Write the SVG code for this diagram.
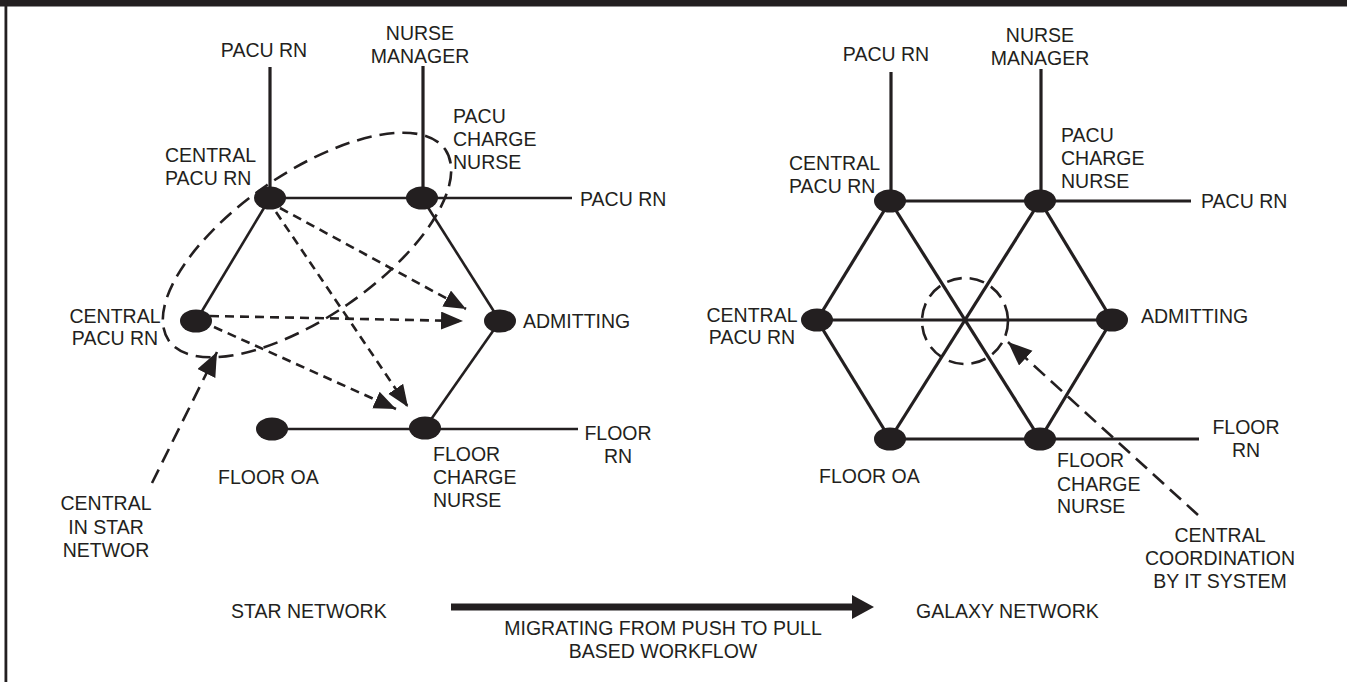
<svg xmlns="http://www.w3.org/2000/svg" width="1347" height="682" viewBox="0 0 1347 682">
<defs>
<style>
text{font-family:"Liberation Sans",Arial,sans-serif;font-size:19.5px;fill:#231f20}
.m{text-anchor:middle}
.ln{stroke:#231f20;fill:none;stroke-width:2.6}
.lg{stroke:#231f20;fill:none;stroke-width:3.2}
.nd{fill:#231f20}
.da{stroke:#231f20;fill:none;stroke-width:2.6;stroke-dasharray:9 6}
.dl{stroke:#231f20;fill:none;stroke-width:2.6;stroke-dasharray:15 8}
</style>
<marker id="ah" markerUnits="userSpaceOnUse" markerWidth="24" markerHeight="20" refX="22" refY="9" orient="auto" viewBox="0 0 24 20">
<path d="M0,0 L22,9 L0,18 z" fill="#231f20"/>
</marker>
<marker id="ah2" markerUnits="userSpaceOnUse" markerWidth="26" markerHeight="22" refX="24" refY="10" orient="auto" viewBox="0 0 26 22">
<path d="M0,0 L24,10 L0,20 z" fill="#231f20"/>
</marker>
</defs>
<rect width="1347" height="682" fill="#fff"/>
<rect x="0" y="0" width="1347" height="6.5" fill="#231f20"/>
<rect x="4.5" y="0" width="2.8" height="682" fill="#231f20"/>

<g id="connectors">
<line class="lg" x1="270" y1="67" x2="270" y2="198"/>
<line class="lg" x1="423" y1="66" x2="423" y2="198"/>
<line class="ln" x1="270" y1="198" x2="572" y2="198"/>
<line class="ln" x1="270" y1="198" x2="196" y2="321"/>
<line class="ln" x1="422" y1="198" x2="500" y2="321"/>
<line class="ln" x1="500" y1="321" x2="425" y2="428"/>
<line class="ln" x1="272" y1="429" x2="578" y2="429"/>
<line class="da" x1="280" y1="208" x2="466" y2="309" marker-end="url(#ah)"/>
<line class="da" x1="210" y1="316" x2="463" y2="321" marker-end="url(#ah)"/>
<line class="da" x1="276" y1="212" x2="408" y2="407" marker-end="url(#ah)"/>
<line class="da" x1="214" y1="327" x2="396" y2="409" marker-end="url(#ah)"/>
<ellipse class="dl" cx="307" cy="245" rx="168" ry="72" transform="rotate(-34.6 307 245)"/>
<line class="dl" stroke-width="3" x1="152" y1="483" x2="217" y2="352" marker-end="url(#ah2)"/>
<line class="lg" x1="891" y1="72" x2="891" y2="201"/>
<line class="lg" x1="1041" y1="69" x2="1041" y2="201"/>
<line class="lg" x1="890" y1="201" x2="1191" y2="201"/>
<line class="lg" x1="890" y1="439" x2="1199" y2="439"/>
<line class="lg" x1="890" y1="201" x2="817" y2="320"/>
<line class="lg" x1="817" y1="320" x2="890" y2="439"/>
<line class="lg" x1="1040" y1="439" x2="1112" y2="320"/>
<line class="lg" x1="1112" y1="320" x2="1040" y2="201"/>
<line class="lg" x1="890" y1="201" x2="1040" y2="439"/>
<line class="lg" x1="1040" y1="201" x2="890" y2="439"/>
<line class="lg" x1="817" y1="320" x2="1112" y2="320"/>
<circle class="dl" stroke-width="2.4" stroke-dasharray="13 7" cx="965" cy="321" r="43"/>
<line class="dl" x1="1198" y1="515" x2="1008" y2="342" marker-end="url(#ah2)"/>
<rect x="451" y="603.5" width="402" height="7" fill="#231f20"/>
<polygon points="852,595 874,607 852,619" fill="#231f20"/>
</g>

<g id="star-central-top"><ellipse class="nd" cx="270" cy="198" rx="16" ry="11.5"/>
<text x="165" y="162">CENTRAL</text><text x="165" y="185">PACU RN</text></g>
<g id="star-pacu-rn-top"><text class="m" x="264" y="57">PACU RN</text></g>
<g id="star-nurse-manager"><text class="m" x="420" y="40">NURSE</text><text class="m" x="420" y="63">MANAGER</text></g>
<g id="star-pacu-charge"><ellipse class="nd" cx="422" cy="198" rx="16" ry="11.5"/>
<text x="453" y="123">PACU</text><text x="453" y="146">CHARGE</text><text x="453" y="169">NURSE</text></g>
<g id="star-pacu-rn-right"><text x="580" y="206">PACU RN</text></g>
<g id="star-central-left"><ellipse class="nd" cx="196" cy="321" rx="16" ry="11.5"/>
<text class="m" x="115" y="323">CENTRAL</text><text class="m" x="115" y="345">PACU RN</text></g>
<g id="star-admitting"><ellipse class="nd" cx="500" cy="321" rx="16" ry="11.5"/>
<text x="523" y="328">ADMITTING</text></g>
<g id="star-floor-oa"><ellipse class="nd" cx="272" cy="429" rx="16" ry="11.5"/>
<text x="218" y="484">FLOOR OA</text></g>
<g id="star-floor-charge"><ellipse class="nd" cx="425" cy="428" rx="16" ry="11.5"/>
<text x="433" y="461">FLOOR</text><text x="433" y="484">CHARGE</text><text x="433" y="507">NURSE</text></g>
<g id="star-floor-rn"><text class="m" x="618" y="440">FLOOR</text><text class="m" x="618" y="463">RN</text></g>
<g id="star-central-note"><text class="m" x="106" y="510">CENTRAL</text><text class="m" x="106" y="534">IN STAR</text><text class="m" x="106" y="557">NETWOR</text></g>

<g id="labels-bottom">
<text x="231" y="618">STAR NETWORK</text>
<text class="m" x="663" y="635">MIGRATING FROM PUSH TO PULL</text>
<text class="m" x="663" y="658">BASED WORKFLOW</text>
<text x="916" y="618">GALAXY NETWORK</text>
</g>

<g id="gal-pacu-rn-top"><text class="m" x="886" y="61">PACU RN</text></g>
<g id="gal-nurse-manager"><text class="m" x="1040" y="42">NURSE</text><text class="m" x="1040" y="65">MANAGER</text></g>
<g id="gal-central-top"><ellipse class="nd" cx="890" cy="201" rx="16" ry="11.5"/>
<text x="789" y="170">CENTRAL</text><text x="789" y="193">PACU RN</text></g>
<g id="gal-pacu-charge"><ellipse class="nd" cx="1040" cy="201" rx="16" ry="11.5"/>
<text x="1061" y="142">PACU</text><text x="1061" y="165">CHARGE</text><text x="1061" y="188">NURSE</text></g>
<g id="gal-pacu-rn-right"><text x="1201" y="208">PACU RN</text></g>
<g id="gal-central-left"><ellipse class="nd" cx="817" cy="320" rx="16" ry="11.5"/>
<text class="m" x="752" y="322">CENTRAL</text><text class="m" x="752" y="344">PACU RN</text></g>
<g id="gal-admitting"><ellipse class="nd" cx="1112" cy="320" rx="16" ry="11.5"/>
<text x="1141" y="323">ADMITTING</text></g>
<g id="gal-floor-oa"><ellipse class="nd" cx="890" cy="439" rx="16" ry="11.5"/>
<text x="819" y="483">FLOOR OA</text></g>
<g id="gal-floor-charge"><ellipse class="nd" cx="1040" cy="439" rx="16" ry="11.5"/>
<text x="1057" y="467">FLOOR</text><text x="1057" y="491">CHARGE</text><text x="1057" y="513">NURSE</text></g>
<g id="gal-floor-rn"><text class="m" x="1246" y="434">FLOOR</text><text class="m" x="1246" y="457">RN</text></g>
<g id="gal-central-note"><text class="m" x="1220" y="542">CENTRAL</text><text class="m" x="1220" y="565">COORDINATION</text><text class="m" x="1220" y="588">BY IT SYSTEM</text></g>
</svg>
